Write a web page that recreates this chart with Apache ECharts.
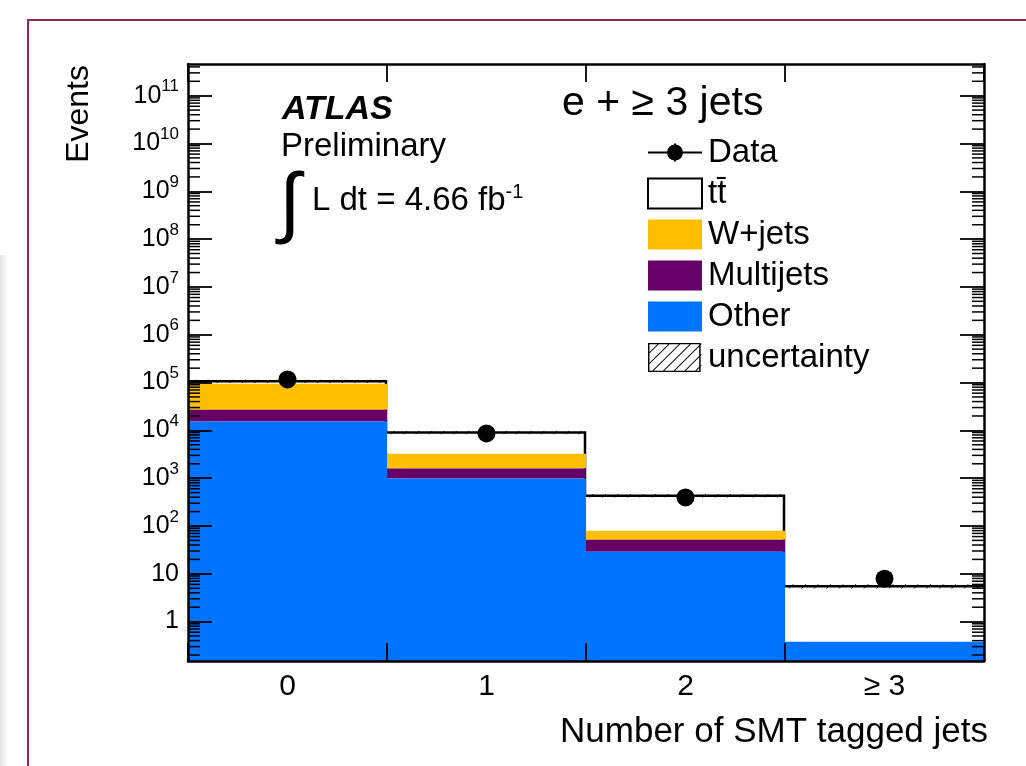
<!DOCTYPE html>
<html>
<head>
<meta charset="utf-8">
<title>Number of SMT tagged jets</title>
<script src="https://cdn.jsdelivr.net/npm/echarts@6/dist/echarts.min.js"></script>
<style>
  html, body { margin: 0; padding: 0; background: #fff; }
  #chart { width: 1026px; height: 766px; }
</style>
</head>
<body>
<div id="chart"></div>
<script>
// bins and per-process yields
const categories = ['0', '1', '2', '\u2265 3'];
const other = [1.53e4, 990, 29, 0.38];
const multijets = [1.16e4, 610, 22.7, 0];
const wjets = [6.73e4, 1640, 28, 0];
const ttbar = [1.18e4, 5800, 350, 5.1];
const dataEvents = [1.16e5, 8610, 396, 7.9];
const uncRel = [0.08, 0.08, 0.08, 0.1];
const yMajorTicks = [1, 10, 1e2, 1e3, 1e4, 1e5, 1e6, 1e7, 1e8, 1e9, 1e10, 1e11];

const yMin = 0.15;
const yMax = 4.6e11;

const font = '"Liberation Sans", Arial, Helvetica, sans-serif';
const colOther = '#0073ff';
const colMulti = '#660066';
const colW = '#ffbf00';

// stack tops, bottom to top
const topOther = other.slice();
const topMulti = topOther.map((v, i) => v + multijets[i]);
const topW = topMulti.map((v, i) => v + wjets[i]);
const total = topW.map((v, i) => v + ttbar[i]);

// log minor ticks (2..9 per decade)
const yMinorTicks = [];
for (let d = -1; d < yMajorTicks.length; d++) {
  for (let m = 2; m <= 9; m++) {
    const v = m * Math.pow(10, d);
    if (v > yMin && v < yMax) yMinorTicks.push(v);
  }
}

function binRect(params, api, lo, hi) {
  const cs = params.coordSys;
  const i = params.dataIndex;
  const w = api.size([1, 1])[0];
  const p = api.coord([i, hi]);
  const yBot = lo > 0 ? api.coord([i, lo])[1] : cs.y + cs.height;
  return echarts.graphic.clipRectByRect(
    { x: p[0] - w / 2, y: p[1], width: w, height: yBot - p[1] },
    { x: cs.x, y: cs.y, width: cs.width, height: cs.height }
  );
}

function fillLayer(name, color, lower, upper) {
  return {
    name: name,
    type: 'custom',
    itemStyle: { color: color },
    data: upper.map((v, i) => [i, v]),
    renderItem: function (params, api) {
      const i = params.dataIndex;
      const lo = lower ? lower[i] : 0;
      if (!(upper[i] > lo)) return null;
      const shape = binRect(params, api, lo, upper[i]);
      return shape ? { type: 'rect', shape: shape, style: { fill: color } } : null;
    }
  };
}

// legend icons
const dataIcon = 'path://M0,8L54,8L54,10L0,10Z M26,0L28,0L28,18L26,18Z M35,9A8,8,0,1,1,19,9A8,8,0,1,1,35,9Z';
let hatchIcon = 'path://M0,0L54,0L54,30L0,30Z M1.5,1.5L1.5,28.5L52.5,28.5L52.5,1.5Z';
for (let a = -19; a < 54; a += 11) {
  const t0 = Math.max(0, -a), t1 = Math.min(30, 54 - a);
  const x1 = a + t0, y1 = 30 - t0, x2 = a + t1, y2 = 30 - t1;
  hatchIcon += ' M' + x1 + ',' + y1 + 'L' + x2 + ',' + y2 + 'L' + (x2 + 1.4) + ',' + y2 + 'L' + (x1 + 1.4) + ',' + y1 + 'Z';
}

const chart = echarts.init(document.getElementById('chart'));

const axisLineStyle = { color: '#000', width: 2.5 };
const tickStyle = { color: '#000', width: 1.8 };

function yLabel(v) {
  const e = Math.round(Math.log10(v));
  if (e === 0) return '1';
  if (e === 1) return '10';
  return '10{sup|' + e + '}';
}

const option = {
  backgroundColor: '#fff',
  animation: false,
  grid: { left: 188, right: 42, top: 64, bottom: 105, containLabel: false },
  xAxis: [
    {
      type: 'category', data: categories, position: 'bottom', z: 5,
      axisLine: { onZero: false, lineStyle: axisLineStyle },
      axisTick: { show: true, inside: true, length: 18, interval: 0, lineStyle: tickStyle },
      axisLabel: { color: '#000', fontSize: 30, fontFamily: font, margin: 11, interval: 0 },
      splitLine: { show: false }
    },
    {
      type: 'category', data: categories, position: 'top', z: 5,
      axisLine: { onZero: false, lineStyle: axisLineStyle },
      axisTick: { show: true, inside: true, length: 18, interval: 0, lineStyle: tickStyle },
      axisLabel: { show: false },
      splitLine: { show: false }
    }
  ],
  yAxis: [
    {
      type: 'log', logBase: 10, min: yMin, max: yMax, position: 'left', z: 5,
      axisLine: { show: true, onZero: false, lineStyle: axisLineStyle },
      axisTick: { show: true, inside: true, length: 24, lineStyle: tickStyle, customValues: yMajorTicks },
      axisLabel: {
        customValues: yMajorTicks,
        color: '#000', fontSize: 25, fontFamily: font, margin: 9, lineHeight: 40,
        formatter: yLabel,
        rich: {
          sup: { fontSize: 17, lineHeight: 17, padding: [0, 0, 18, 0], fontFamily: font, color: '#000' }
        }
      },
      splitLine: { show: false }
    },
    {
      type: 'log', logBase: 10, min: yMin, max: yMax, position: 'right', z: 5,
      axisLine: { show: true, onZero: false, lineStyle: axisLineStyle },
      axisTick: { show: true, inside: true, length: 24, lineStyle: tickStyle, customValues: yMajorTicks },
      axisLabel: { show: false },
      splitLine: { show: false }
    }
  ],
  legend: {
    orient: 'vertical', left: 642, top: 131,
    itemWidth: 54, itemHeight: 30, itemGap: 8,
    selectedMode: false,
    textStyle: { fontSize: 33, fontFamily: font, color: '#000', lineHeight: 30, padding: [0, 0, 0, 1] },
    data: [
      { name: 'Data', icon: dataIcon, itemStyle: { color: '#000', borderWidth: 0 } },
      { name: 'tt\u0304', icon: 'rect', itemStyle: { color: '#fff', borderColor: '#000', borderWidth: 2 } },
      { name: 'W+jets', icon: 'rect', itemStyle: { color: colW, borderWidth: 0 } },
      { name: 'Multijets', icon: 'rect', itemStyle: { color: colMulti, borderWidth: 0 } },
      { name: 'Other', icon: 'rect', itemStyle: { color: colOther, borderWidth: 0 } },
      { name: 'uncertainty', icon: hatchIcon, itemStyle: { color: '#000', borderWidth: 0 } }
    ]
  },
  graphic: [
    { type: 'rect', silent: true, z: -2, shape: { x: 0, y: 255, width: 7, height: 520 },
      style: { fill: new echarts.graphic.LinearGradient(0, 0, 1, 0, [{ offset: 0, color: '#e4e4e4' }, { offset: 1, color: '#fbfbfb' }]) } },
    { type: 'rect', silent: true, z: -1, shape: { x: 28, y: 20, width: 1100, height: 900 },
      style: { fill: 'none', stroke: '#9c2059', lineWidth: 2 } },
    { type: 'text', x: 79, y: 65, rotation: Math.PI / 2,
      style: { text: 'Events', fontSize: 32, fontFamily: font, fill: '#000', align: 'right', verticalAlign: 'middle' } },
    { type: 'text', x: 988, y: 732,
      style: { text: 'Number of SMT tagged jets', fontSize: 35, fontFamily: font, fill: '#000', align: 'right', verticalAlign: 'middle' } },
    { type: 'text', x: 282, y: 110,
      style: { text: 'ATLAS', fontSize: 34, fontStyle: 'italic', fontWeight: 'bold', fontFamily: font, fill: '#000', align: 'left', verticalAlign: 'middle' } },
    { type: 'text', x: 281, y: 147,
      style: { text: 'Preliminary', fontSize: 33, fontFamily: font, fill: '#000', align: 'left', verticalAlign: 'middle' } },
    { type: 'text', x: 290, y: 206,
      style: { text: '\u222B', fontSize: 78, fontFamily: font, fill: '#000', align: 'center', verticalAlign: 'middle' } },
    { type: 'text', x: 312, y: 201,
      style: {
        text: '{m|L dt = 4.66 fb}{s|-1}', align: 'left', verticalAlign: 'middle',
        rich: {
          m: { fontSize: 33, lineHeight: 40, fontFamily: font, fill: '#000' },
          s: { fontSize: 20, lineHeight: 20, padding: [0, 0, 17, 0], fontFamily: font, fill: '#000' }
        }
      } },
    { type: 'text', x: 562, y: 104,
      style: { text: 'e + \u2265 3 jets', fontSize: 41, fontFamily: font, fill: '#000', align: 'left', verticalAlign: 'middle' } }
  ],
  series: [
    {
      name: 'tt\u0304',
      type: 'custom',
      itemStyle: { color: '#fff', borderColor: '#000', borderWidth: 2 },
      data: total.map((v, i) => [i, v]),
      renderItem: function (params, api) {
        const i = params.dataIndex;
        const w = api.size([1, 1])[0];
        const p = api.coord([i, total[i]]);
        const yLow = api.coord([i, topW[i]])[1];
        const x0 = p[0] - w / 2, x1 = p[0] + w / 2;
        const pts = [[x0, p[1]], [x1 - 1, p[1]]];
        if (i < total.length - 1) pts.push([x1 - 1, api.coord([i + 1, total[i + 1]])[1]]);
        else pts[1][0] = x1;
        return {
          type: 'group',
          children: [
            { type: 'rect', shape: { x: x0, y: p[1], width: w, height: yLow - p[1] }, style: { fill: '#fff' } },
            { type: 'polyline', shape: { points: pts }, style: { stroke: '#000', lineWidth: 2.5, fill: null, lineJoin: 'miter' } }
          ]
        };
      }
    },
    fillLayer('W+jets', colW, topMulti, topW),
    fillLayer('Multijets', colMulti, topOther, topMulti),
    fillLayer('Other', colOther, null, topOther),
    {
      name: 'uncertainty',
      type: 'custom',
      itemStyle: { color: '#000' },
      data: total.map((v, i) => [i, v]),
      renderItem: function (params, api) {
        const i = params.dataIndex;
        const w = api.size([1, 1])[0];
        const cx = api.coord([i, total[i]])[0];
        const yHi = api.coord([i, total[i] * (1 + uncRel[i])])[1];
        const yLo = api.coord([i, total[i] * (1 - uncRel[i])])[1];
        const h = yLo - yHi;
        const x0 = cx - w / 2, x1 = cx + w / 2;
        const children = [];
        for (let x = x0 + 4; x + h <= x1; x += 12.5) {
          children.push({ type: 'line', shape: { x1: x, y1: yLo, x2: x + h, y2: yHi }, style: { stroke: '#000', lineWidth: 1 } });
        }
        return { type: 'group', children: children };
      }
    },
    {
      name: 'Data',
      type: 'scatter',
      z: 8,
      symbol: 'circle',
      symbolSize: 18,
      itemStyle: { color: '#000', opacity: 1 },
      data: dataEvents.map((v, i) => [i, v])
    },
    {
      type: 'custom',
      silent: true,
      z: 6,
      data: yMinorTicks.map(v => [0, v]),
      renderItem: function (params, api) {
        const cs = params.coordSys;
        const y = api.coord([0, yMinorTicks[params.dataIndex]])[1];
        return {
          type: 'group',
          children: [
            { type: 'line', shape: { x1: cs.x, y1: y, x2: cs.x + 12, y2: y }, style: { stroke: '#000', lineWidth: 1.5 } },
            { type: 'line', shape: { x1: cs.x + cs.width - 12, y1: y, x2: cs.x + cs.width, y2: y }, style: { stroke: '#000', lineWidth: 1.5 } }
          ]
        };
      }
    }
  ]
};

chart.setOption(option);
</script>
</body>
</html>
